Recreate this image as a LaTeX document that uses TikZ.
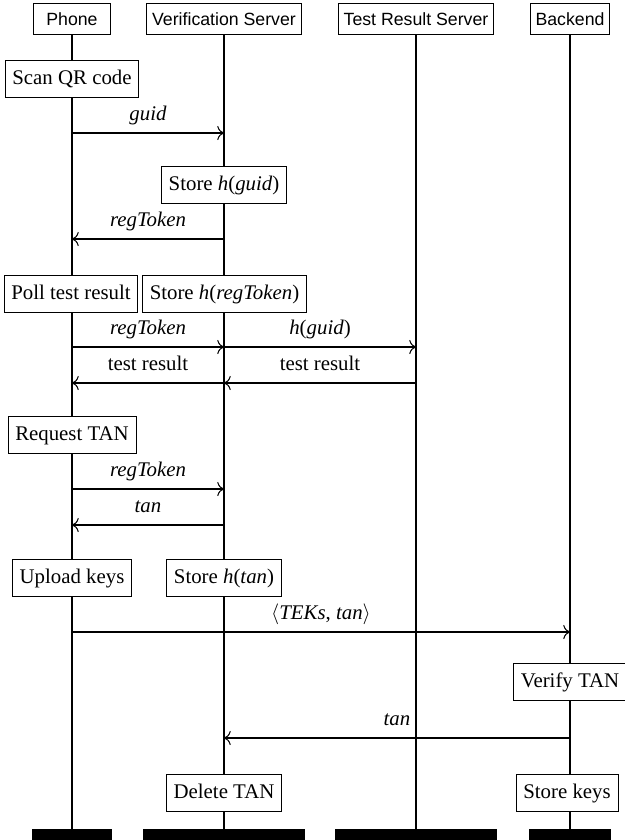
\documentclass[tikz,border=0pt]{standalone}
\usepackage{fontspec}
\setmainfont{Liberation Serif}
\setsansfont{Liberation Sans}
\usetikzlibrary{arrows.meta}

\tikzset{
  actor/.style={draw, line width=0.45pt, font=\sffamily\fontsize{8.5}{10}\selectfont,
    minimum height=15pt, minimum width=37pt, inner xsep=2.5pt},
  action/.style={draw, fill=white, line width=0.45pt, minimum height=17.5pt, inner xsep=3.5pt,
    text height=7pt, text depth=2.2pt},
  endbar/.style={fill=black, minimum height=5.3pt, inner sep=0pt},
  life/.style={line width=0.9pt},
  msg/.style={-{To[scale=1.2]}, line width=0.5pt},
  lbl/.style={midway, above, text depth=2.2pt},
}

\begin{document}
\begin{tikzpicture}[x=0.48pt, y=-0.48pt]
  \useasboundingbox (0,0) rectangle (624,840);

  % Actors
  \node[actor] (phone)   at (72,19)  {Phone};
  \node[actor] (verif)   at (224,19) {Verification Server};
  \node[actor] (testsrv) at (416,19) {Test Result Server};
  \node[actor] (backend) at (570,19) {Backend};

  % End bars
  \node[endbar, minimum width=38.4pt] (phone-end)   at (72,834.5)  {};
  \node[endbar, minimum width=77.3pt] (verif-end)   at (224,834.5) {};
  \node[endbar, minimum width=77.8pt] (testsrv-end) at (416,834.5) {};
  \node[endbar, minimum width=39.4pt] (backend-end) at (570,834.5) {};

  % Lifelines
  \foreach \a in {phone, verif, testsrv, backend}
    \draw[life] (\a.south) -- (\a-end.north);

  % Message rows
  \coordinate (r1) at (0,133);
  \coordinate (r2) at (0,239);
  \coordinate (r3) at (0,347);
  \coordinate (r4) at (0,383);
  \coordinate (r5) at (0,489);
  \coordinate (r6) at (0,525);
  \coordinate (r7) at (0,632);
  \coordinate (r8) at (0,738);

  % Actions
  \node[action] (scan)      at (72,79)   {Scan QR code};
  \node[action] (storeGuid) at (224,185) {Store \textit{h}(\textit{guid})};
  \node[action] (poll)      at (71,294)  {Poll test result};
  \node[action] (storeReg)  at (224.5,294) {Store \textit{h}(\textit{regToken})};
  \node[action] (reqTan)    at (72,435)  {Request TAN};
  \node[action] (upload)    at (72,578)  {Upload keys};
  \node[action] (storeTan)  at (224,578) {Store \textit{h}(\textit{tan})};
  \node[action] (verifyTan) at (570,682) {Verify TAN};
  \node[action] (deleteTan) at (224,793) {Delete TAN};
  \node[action] (storeKeys) at (567,793) {Store keys};

  % Messages
  \draw[msg] (phone |- r1) -- node[lbl] {\textit{guid}} (verif |- r1);
  \draw[msg] (verif |- r2) -- node[lbl] {\textit{regToken}} (phone |- r2);
  \draw[msg] (phone |- r3) -- node[lbl] {\textit{regToken}} (verif |- r3);
  \draw[msg] (verif |- r3) -- node[lbl] {\textit{h}(\textit{guid})} (testsrv |- r3);
  \draw[msg] (verif |- r4) -- node[lbl] {test result} (phone |- r4);
  \draw[msg] (testsrv |- r4) -- node[lbl] {test result} (verif |- r4);
  \draw[msg] (phone |- r5) -- node[lbl] {\textit{regToken}} (verif |- r5);
  \draw[msg] (verif |- r6) -- node[lbl] {\textit{tan}} (phone |- r6);
  \draw[msg] (phone |- r7) -- node[lbl] {$\langle$\textit{TEKs}, \textit{tan}$\rangle$} (backend |- r7);
  \draw[msg] (backend |- r8) -- node[lbl] {\textit{tan}} (verif |- r8);
\end{tikzpicture}
\end{document}
